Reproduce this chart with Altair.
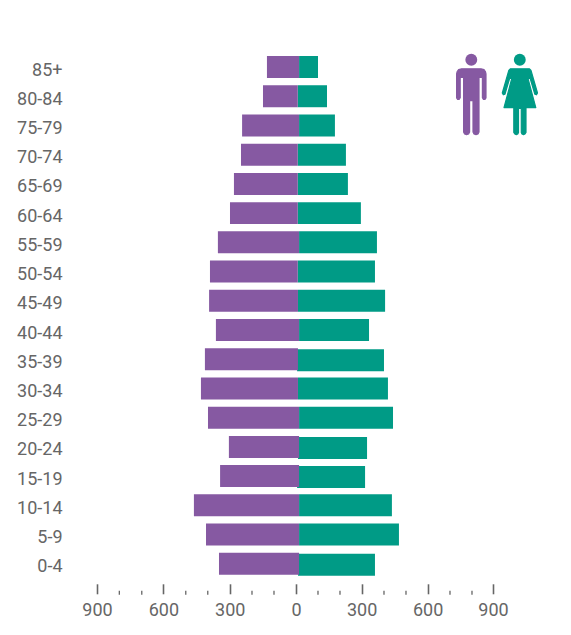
import altair as alt
import pandas as pd

ages = ["85+", "80-84", "75-79", "70-74", "65-69", "60-64", "55-59", "50-54", "45-49",
        "40-44", "35-39", "30-34", "25-29", "20-24", "15-19", "10-14", "5-9", "0-4"]
male = [132, 150, 245, 250, 282, 300, 355, 391, 395, 364, 414, 432, 400, 305, 345, 464, 409, 350]
female = [100, 141, 177, 227, 236, 295, 368, 359, 405, 332, 400, 418, 441, 323, 314, 436, 468, 359]
male_base = [14, 8, 14, 8, 8, 8, 14, 8, 9, 14, 9, 9, 14, 14, 14, 14, 14, 14]
female_base = [14, 8, 14, 8, 8, 8, 14, 8, 9, 14, 5, 9, 14, 9, 5, 14, 14, 9]
female_drop = [0, 0, 0, 0, 0, 0, 0, 0, 0, 0, 1, 0, 0, 1, 1, 0, 0, 1]
major_ticks = [-904.5, -603, -301, 0, 298.5, 598.5, 895.5]
minor_ticks = [-803, -701, -501, -401, -200, -100, 100, 200, 400, 500, 700, 800]

PURPLE = "#8659A2"
TEAL = "#009B86"
GREY = "#666666"
FONT = "Roboto"
W, H = 396, 526
PAD_L, PAD_T = 89, 44.4

df = pd.DataFrame({
    "age": ages,
    "m0": [-v for v in male],
    "m1": male_base,
    "f0": female_base,
    "f1": female,
    "drop": female_drop,
})

xs = alt.Scale(domain=[-904.5, 895.5], nice=False, zero=False)
ys = alt.Scale(domain=ages, paddingInner=0.2476, paddingOuter=0.1238)

xaxis = alt.Axis(values=major_ticks, labelExpr="round(abs(datum.value) / 100) * 100", grid=False, domain=False,
                 offset=5.4, tickSize=10, tickWidth=1.6, tickColor=GREY, labelColor=GREY,
                 labelFont=FONT, labelFontSize=18, labelPadding=8, title=None, labelFlush=False)
yaxis = alt.Axis(grid=False, domain=False, ticks=False, labelColor=GREY, labelFont=FONT,
                 labelFontSize=18, labelPadding=35, labelOffset=3.5, title=None)

base = alt.Chart(df)
enc_f = dict(y=alt.Y("age:N", scale=ys, axis=yaxis, sort=ages),
             x=alt.X("f0:Q", scale=xs, axis=xaxis), x2="f1:Q")
teal_flat = base.transform_filter("datum.drop == 0").mark_bar(color=TEAL, cornerRadius=0).encode(**enc_f)
teal_drop = base.transform_filter("datum.drop == 1").mark_bar(color=TEAL, cornerRadius=0, yOffset=1).encode(**enc_f)
purple = base.mark_bar(color=PURPLE, cornerRadius=0).encode(
    y=alt.Y("age:N", scale=ys, axis=yaxis, sort=ages),
    x=alt.X("m0:Q", scale=xs, axis=xaxis), x2="m1:Q")

minor = alt.Chart(pd.DataFrame({"t": minor_ticks})).mark_rule(color=GREY, strokeWidth=1.3).encode(
    x=alt.X("t:Q", scale=xs, axis=xaxis),
    y=alt.value(H + 12.4), y2=alt.value(H + 16.4))


def px(x, y):
    return x - 8 - PAD_L, y - 8 - PAD_T


def shape(points, cx, cy, half):
    return "M" + " L".join(f"{(x - cx) / half:.4f},{(y - cy) / half:.4f}" for x, y in points) + " Z"


def mirrored(half_points, axis):
    return half_points + [(2 * axis - x, y) for x, y in reversed(half_points)]


MAN_AXIS = 471.3
MAN = mirrored([(471.3, 68.8), (481, 68.8), (484, 69.6), (485.4, 71.5), (486, 74), (486, 97.8), (485, 99.3),
                (483.3, 99.3), (482.4, 97.8), (482.4, 77.5), (479, 77.5), (479, 132), (478, 134),
                (476, 134.6), (474, 134), (473, 132), (473, 100.6), (471.3, 100.6)], MAN_AXIS)
WOMAN_AXIS = 519.9
WOMAN = mirrored([(519.9, 68.8), (529.5, 68.8), (531, 70.5), (537.5, 93), (536.5, 94.8), (534.8, 94.2),
                  (530.2, 78.5), (528, 78.5), (535.8, 107.6), (526, 107.6), (526, 132.5), (525, 134),
                  (523.5, 134.6), (522, 134), (521.3, 132.5), (521.3, 108.5), (519.9, 108.5)], WOMAN_AXIS)


def icon(points, cx, cy, color):
    half = 40
    x, y = px(cx, cy)
    return alt.Chart(pd.DataFrame({"i": [0]})).mark_point(
        shape=shape(points, cx, cy, half), size=(2 * half) ** 2, filled=True, fill=color,
        stroke=color, strokeWidth=1.2, strokeJoin="round", opacity=1, clip=False,
    ).encode(x=alt.value(x), y=alt.value(y))


def head(cx, cy, color):
    x, y = px(cx, cy)
    return alt.Chart(pd.DataFrame({"i": [0]})).mark_circle(size=141, color=color, opacity=1).encode(
        x=alt.value(x), y=alt.value(y))


chart = alt.layer(
    teal_flat, teal_drop, purple, minor,
    icon(MAN, MAN_AXIS, 100, PURPLE), head(471.3, 59.7, PURPLE),
    icon(WOMAN, WOMAN_AXIS, 100, TEAL), head(519.8, 59.7, TEAL),
).properties(
    width=W, height=H,
    padding={"left": PAD_L, "top": PAD_T, "right": 60, "bottom": 46},
    autosize=alt.AutoSizeParams(type="none"),
).configure_view(stroke=None)

chart.save("out.html", embed_options={"renderer": "svg", "actions": False})
